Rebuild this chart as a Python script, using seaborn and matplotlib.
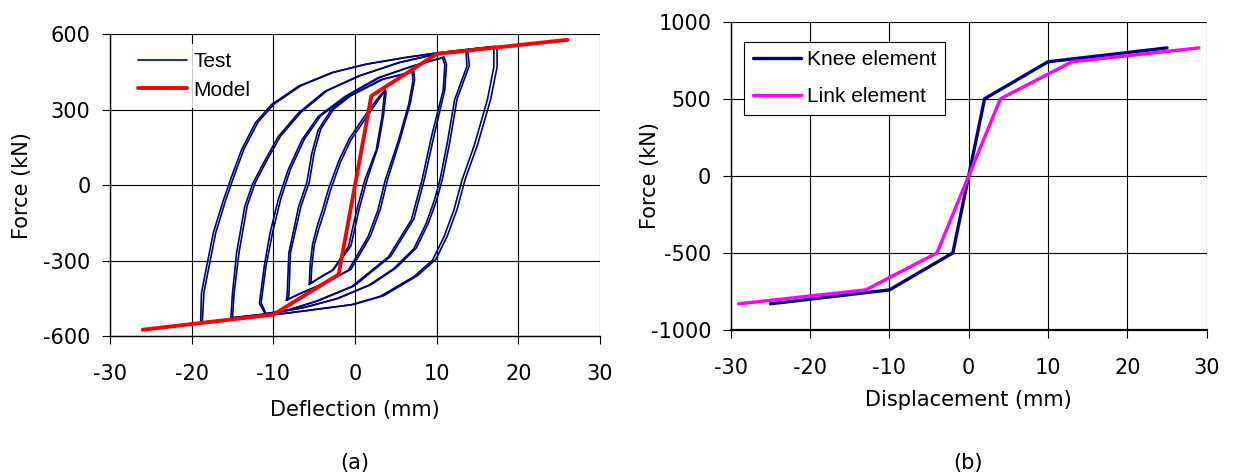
import numpy as np
import pandas as pd
import matplotlib
matplotlib.use("Agg")
import matplotlib.pyplot as plt
from matplotlib.lines import Line2D
import seaborn as sns

# ---------------- data: panel (a) ----------------
# Test hysteresis cycles (ascending branch followed by descending branch)
cycle_A1_x = [-5.4, -5.3, -5.0, -4.4, -3.8, -3.0, -1.8, -0.5, 1.5, 3.0, 3.7,
              3.8, 3.5, 2.8, 1.5, 0.5, -0.5, -2.6, -4.2, -5.4]
cycle_A1_y = [-390, -330, -240, -170, -110, -20, 90, 180, 275, 345, 378,
              370, 280, 150, 24, -96, -242, -335, -365, -390]
cycle_A2_x = [-5.6, -5.5, -5.2, -4.6, -4.0, -3.2, -2.0, -0.7, 1.3, 2.9, 3.6,
              3.6, 3.3, 2.6, 1.2, 0.2, -0.8, -2.8, -4.4, -5.6]
cycle_A2_y = [-395, -320, -235, -160, -100, -10, 95, 185, 280, 350, 375,
              360, 270, 140, 20, -100, -245, -340, -370, -395]

cycle_B1_x = [-8.3, -8.1, -7.9, -6.6, -5.6, -5.0, -4.2, -2.6, -0.5, 3.5, 7.2,
              7.3, 6.8, 5.5, 4.0, 3.1, 1.9, -0.5, -3.4, -6.6, -8.3]
cycle_B1_y = [-455, -441, -268, -82, 11, 130, 223, 303, 356, 422, 452,
              420, 330, 180, 24, -96, -202, -335, -385, -430, -455]
cycle_B2_x = [-8.4, -8.3, -8.1, -6.9, -5.9, -5.3, -4.5, -2.9, -0.8, 3.2, 7.0,
              7.1, 6.6, 5.3, 3.7, 2.8, 1.6, -0.8, -3.6, -6.8, -8.4]
cycle_B2_y = [-458, -430, -270, -85, 10, 125, 220, 300, 352, 420, 450,
              415, 325, 175, 20, -100, -205, -338, -388, -432, -458]

cycle_C1_x = [-10.9, -11.5, -10.9, -10.1, -9.1, -7.9, -6.2, -4.2, -0.9, 3.1, 7.2, 10.5, 10.9,
              11.2, 11.0, 9.7, 8.5, 7.2, 4.4, -0.1, -4.5, -7.9, -10.9]
cycle_C1_y = [-511, -468, -322, -189, -56, 64, 183, 276, 356, 429, 475, 505, 510,
              480, 380, 200, 24, -135, -282, -401, -460, -494, -511]
cycle_C2_x = [-11.0, -11.7, -11.1, -10.4, -9.4, -8.2, -6.5, -4.5, -1.2, 2.8, 7.0, 10.3, 10.7,
              11.0, 10.8, 9.4, 8.2, 6.9, 4.1, -0.4, -4.8, -8.1, -11.0]
cycle_C2_y = [-512, -470, -320, -190, -58, 60, 180, 273, 353, 427, 473, 503, 508,
              478, 378, 198, 20, -138, -285, -403, -462, -496, -512]

cycle_D1_x = [-15.0, -14.8, -14.2, -13.2, -12.2, -10.7, -9.1, -6.6, -3.4, 0.7, 5.6, 10.0, 13.8,
              14.0, 12.5, 11.6, 10.7, 10.0, 9.0, 7.5, 5.0, 2.0, -2.0, -6.0, -10.0, -15.0]
cycle_D1_y = [-527, -428, -268, -82, 11, 104, 196, 290, 376, 436, 489, 522, 539,
              475, 343, 170, 24, -60, -150, -250, -330, -395, -450, -485, -509, -527]
cycle_D2_x = [-15.2, -15.0, -14.5, -13.5, -12.5, -11.0, -9.4, -6.9, -3.7, 0.4, 5.3, 9.8, 13.6,
              13.7, 12.2, 11.3, 10.4, 9.7, 8.7, 7.2, 4.7, 1.7, -2.3, -6.3, -10.2, -15.2]
cycle_D2_y = [-528, -430, -270, -85, 8, 100, 193, 288, 373, 434, 487, 520, 537,
              472, 340, 168, 20, -62, -153, -253, -333, -398, -452, -487, -510, -528]

cycle_E1_x = [-18.7, -18.5, -18.1, -17.05, -15.8, -14.8, -13.6, -11.9, -9.9, -6.6, -2.6, 1.5, 6.4, 10.0, 13.8, 17.2,
              17.4, 17.4, 16.6, 15.0, 13.5, 12.5, 11.3, 9.9, 7.6, 3.5, -0.1, -7.9, -10.0, -18.7]
cycle_E1_y = [-545, -428, -361, -189, -56, 37, 143, 250, 323, 396, 449, 482, 509, 526, 540, 552,
              540, 470, 340, 160, 24, -96, -202, -295, -361, -440, -474, -507, -515, -545]
cycle_E2_x = [-18.9, -18.8, -18.4, -17.35, -16.1, -15.1, -13.9, -12.2, -10.2, -6.9, -2.9, 1.2, 6.1, 9.8, 13.6, 16.8,
              17.0, 17.0, 16.2, 14.6, 13.1, 12.1, 10.9, 9.5, 7.2, 3.1, -0.5, -8.2, -10.2, -18.9]
cycle_E2_y = [-546, -430, -362, -190, -58, 35, 140, 248, 321, 394, 447, 480, 507, 524, 539, 551,
              540, 470, 338, 158, 20, -100, -205, -298, -364, -442, -476, -509, -516, -546]

# Model backbone
model_x = [-26, -10, -2, 2, 10, 26]
model_y = [-575, -515, -355, 355, 522, 578]

# ---------------- data: panel (b) ----------------
knee_x = [-25, -10, -2, 2, 10, 25]
knee_y = [-830, -740, -500, 500, 740, 830]
link_x = [-29, -13, -4, 4, 13, 29]
link_y = [-830, -740, -500, 500, 740, 830]

ticks_a_x = [-30, -20, -10, 0, 10, 20, 30]
ticks_a_y = [-600, -300, 0, 300, 600]
ticks_b_x = [-30, -20, -10, 0, 10, 20, 30]
ticks_b_y = [-1000, -500, 0, 500, 1000]

# ---------------- build frames ----------------
cycles = {
    "A1": (cycle_A1_x, cycle_A1_y), "A2": (cycle_A2_x, cycle_A2_y),
    "B1": (cycle_B1_x, cycle_B1_y), "B2": (cycle_B2_x, cycle_B2_y),
    "C1": (cycle_C1_x, cycle_C1_y), "C2": (cycle_C2_x, cycle_C2_y),
    "D1": (cycle_D1_x, cycle_D1_y), "D2": (cycle_D2_x, cycle_D2_y),
    "E1": (cycle_E1_x, cycle_E1_y), "E2": (cycle_E2_x, cycle_E2_y),
}
rows = []
for name, (xs, ys) in cycles.items():
    for i, (xv, yv) in enumerate(zip(xs, ys)):
        rows.append({"cycle": name, "order": i, "x": xv, "y": yv})
test_df = pd.DataFrame(rows)
model_df = pd.DataFrame({"x": model_x, "y": model_y})

b_df = pd.concat([
    pd.DataFrame({"x": knee_x, "y": knee_y, "element": "Knee element"}),
    pd.DataFrame({"x": link_x, "y": link_y, "element": "Link element"}),
], ignore_index=True)

# ---------------- style ----------------
sns.set_theme(style="white")
plt.rcParams["font.family"] = ["DejaVu Sans"]
plt.rcParams["axes.unicode_minus"] = False
plt.rcParams["text.color"] = "black"
plt.rcParams["axes.labelcolor"] = "black"
plt.rcParams["xtick.color"] = "black"
plt.rcParams["ytick.color"] = "black"
plt.rcParams["legend.labelcolor"] = "black"

WIDE = ["DejaVu Sans"]
NARROW = ["Liberation Sans", "DejaVu Sans"]
FS = 15

NAVY = "#000080"
RED = "#FF0000"
MAGENTA = "#FF00FF"

fig = plt.figure(figsize=(12.48, 4.76), dpi=100)
fig.patch.set_facecolor("white")

ax1 = fig.add_axes([110 / 1248, 1 - 336 / 476, 490 / 1248, (336 - 34.3) / 476])
ax2 = fig.add_axes([730.7 / 1248, 1 - 330 / 476, 476 / 1248, (330 - 21.7) / 476])

# panel (a)
for name in cycles:
    sub = test_df[test_df["cycle"] == name]
    sns.lineplot(data=sub, x="x", y="y", ax=ax1, sort=False, estimator=None,
                 color=NAVY, linewidth=1.2, legend=False)
sns.lineplot(data=model_df, x="x", y="y", ax=ax1, sort=False, estimator=None,
             color=RED, linewidth=2.8, legend=False)

ax1.set_xlim(-30, 30)
ax1.set_ylim(-600, 600)
ax1.set_xticks(ticks_a_x)
ax1.set_yticks(ticks_a_y)
ax1.set_xlabel("Deflection (mm)", fontsize=FS, family=WIDE, color="black")
ax1.set_ylabel("Force (kN)", fontsize=FS, family=WIDE, color="black")
ax1.xaxis.set_label_coords(0.5, -(410 - 336) / 301.7)
ax1.yaxis.set_label_coords((22 - 110) / 490, 0.5)
leg1 = ax1.legend(handles=[Line2D([], [], color=NAVY, lw=1.2, label="Test"),
                           Line2D([], [], color=RED, lw=2.8, label="Model")],
                  loc="upper left", bbox_to_anchor=(0.04, 0.968),
                  prop={"family": NARROW, "size": 15},
                  frameon=True, handlelength=2.35, handletextpad=0.3,
                  borderaxespad=0.0, borderpad=0.4, labelspacing=0.45,
                  fancybox=False, labelcolor="black")
leg1.get_frame().set_facecolor("white")
leg1.get_frame().set_edgecolor("none")

# panel (b)
sns.lineplot(data=b_df, x="x", y="y", hue="element", ax=ax2, sort=False,
             estimator=None, palette={"Knee element": NAVY, "Link element": MAGENTA},
             linewidth=2.4)
ax2.set_xlim(-30, 30)
ax2.set_ylim(-1000, 1000)
ax2.set_xticks(ticks_b_x)
ax2.set_yticks(ticks_b_y)
ax2.set_xlabel("Displacement (mm)", fontsize=FS, family=WIDE, color="black")
ax2.set_ylabel("Force (kN)", fontsize=FS, family=WIDE, color="black")
ax2.xaxis.set_label_coords(0.5, -(400 - 330) / 308.3)
ax2.yaxis.set_label_coords((650 - 730.7) / 476, 0.5)
leg2 = ax2.legend(title=None, loc="upper left", bbox_to_anchor=(0.028, 0.935),
                  prop={"family": NARROW, "size": 15}, borderaxespad=0.0,
                  frameon=True, fancybox=False, handlelength=2.3,
                  handletextpad=0.3, labelspacing=0.85, borderpad=0.42,
                  labelcolor="black")
leg2.get_frame().set_edgecolor("black")
leg2.get_frame().set_linewidth(0.8)
leg2.get_frame().set_facecolor("white")
leg2.get_frame().set_alpha(1)

for ax in (ax1, ax2):
    ax.set_facecolor("white")
    ax.grid(True, color="black", linewidth=0.8)
    ax.set_axisbelow(True)
    for side in ("top", "right"):
        ax.spines[side].set_visible(False)
    for side in ("left", "bottom"):
        ax.spines[side].set_color("black")
        ax.spines[side].set_linewidth(1.0)
    ax.tick_params(axis="both", which="both", direction="out", length=6,
                   width=0.8, color="black", labelcolor="black", labelsize=FS,
                   left=True, bottom=True)
    ax.tick_params(axis="y", pad=8)
    for lab in ax.get_xticklabels() + ax.get_yticklabels():
        lab.set_family(WIDE)
    ax.xaxis.label.set_va("center")
    ax.yaxis.label.set_va("center")
ax1.tick_params(axis="x", pad=14)
ax2.tick_params(axis="x", pad=14)
ax2.spines["bottom"].set_linewidth(1.6)

fig.text(355 / 1248, 1 - 463 / 476, "(a)", ha="center", va="center",
         fontsize=FS, family=WIDE, color="black")
fig.text(968 / 1248, 1 - 463 / 476, "(b)", ha="center", va="center",
         fontsize=FS, family=WIDE, color="black")

fig.savefig("out.png", dpi=100, facecolor="white")
